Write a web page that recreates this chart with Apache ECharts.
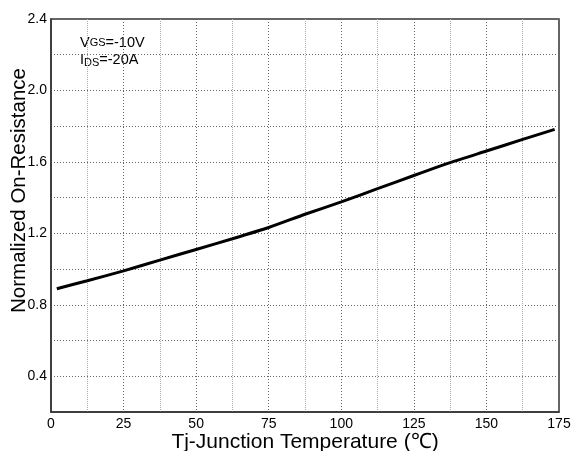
<!DOCTYPE html>
<html>
<head>
<meta charset="utf-8">
<script src="https://cdn.jsdelivr.net/npm/echarts@6/dist/echarts.min.js"></script>
<style>html,body{margin:0;padding:0;background:#fff;}#c{width:576px;height:451px;}</style>
</head>
<body>
<div id="c"></div>
<script>
const temps = [2, 12.5, 25, 37.5, 50, 62.5, 75, 87.5, 100, 112.5, 125, 137.5, 150, 162.5, 173.5];
const resistance = [0.89, 0.935, 0.99, 1.05, 1.11, 1.17, 1.233, 1.307, 1.376, 1.45, 1.524, 1.596, 1.661, 1.726, 1.782];
const xTicks = [0, 25, 50, 75, 100, 125, 150, 175];
const yTicks = [0.4, 0.8, 1.2, 1.6, 2.0, 2.4];
const xTitle = 'Tj-Junction Temperature (℃)';
const yTitle = 'Normalized On-Resistance';

const chart = echarts.init(document.getElementById('c'), null, {renderer: 'canvas'});
const font = 'Liberation Sans, Arial, sans-serif';
const gridLine = {show: true, lineStyle: {color: '#666', type: [1, 2], width: 1}};
chart.setOption({
  animation: false,
  backgroundColor: '#fff',
  grid: {left: 51, right: 17, top: 19, bottom: 39, show: true, borderColor: '#333', borderWidth: 1.5,
         containLabel: false, outerBoundsMode: 'none'},
  xAxis: {
    type: 'value', min: 0, max: 175, interval: 25,
    name: xTitle, nameLocation: 'middle', nameGap: 20, nameMoveOverlap: false,
    nameTextStyle: {fontFamily: font, fontSize: 21, color: '#000'},
    axisLine: {show: true, lineStyle: {color: '#333', width: 1.5}},
    axisTick: {show: false},
    axisLabel: {fontFamily: font, fontSize: 14, color: '#000', margin: 5,
      formatter: v => xTicks.includes(v) ? String(v) : ''},
    splitLine: gridLine,
    minorTick: {show: false, splitNumber: 2},
    minorSplitLine: {show: true, lineStyle: {color: '#aaa', type: [1, 1], width: 1}}
  },
  yAxis: {
    type: 'value', min: 0.2, max: 2.4, interval: 0.2,
    name: yTitle, nameLocation: 'middle', nameGap: 21, nameMoveOverlap: false,
    nameTextStyle: {fontFamily: font, fontSize: 20.5, color: '#000', padding: [0, 0, 0, 50]},
    axisLine: {show: true, lineStyle: {color: '#333', width: 1.5}},
    axisTick: {show: false},
    axisLabel: {fontFamily: font, fontSize: 14, color: '#000', margin: 4,
      formatter: v => yTicks.some(t => Math.abs(t - v) < 1e-6) ? v.toFixed(1) : ''},
    splitLine: gridLine
  },
  graphic: [
    {type: 'text', left: 80, top: 35, style: {
      text: '{b|V}{s|GS}{b|=-10V}', fill: '#000',
      rich: {b: {fontFamily: font, fontSize: 14.5, fill: '#000'}, s: {fontFamily: font, fontSize: 11, fill: '#000'}}
    }},
    {type: 'text', left: 80, top: 52, style: {
      text: '{b|I}{s|DS}{b|=-20A}', fill: '#000',
      rich: {b: {fontFamily: font, fontSize: 14.5, fill: '#000'}, s: {fontFamily: font, fontSize: 11, fill: '#000', verticalAlign: 'bottom', padding: [6, 0, 0, 0]}}
    }}
  ],
  series: [{
    type: 'line', data: temps.map((t, i) => [t, resistance[i]]),
    showSymbol: false, smooth: 0.2,
    lineStyle: {color: '#000', width: 3}
  }]
});
</script>
</body>
</html>
